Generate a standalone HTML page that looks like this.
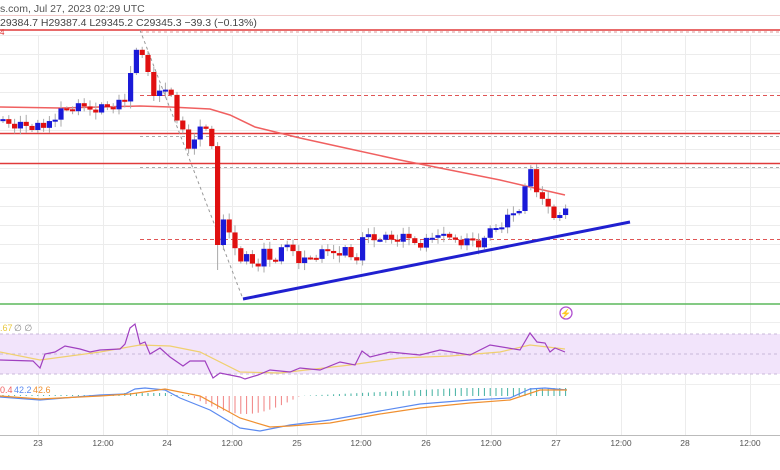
<!DOCTYPE html>
<html><head><meta charset="utf-8"><style>
html,body{margin:0;padding:0;background:#fff;width:780px;height:470px;overflow:hidden}
svg{display:block;font-family:"Liberation Sans",sans-serif}
</style></head><body>
<svg id="s" width="780" height="470" xmlns="http://www.w3.org/2000/svg">
<rect width="780" height="470" fill="#fff"/>
<g id="grid" stroke="#ececec" stroke-width="1"></g>
<line x1="0" y1="15.5" x2="780" y2="15.5" stroke="#f0c8c8"/>
<text x="0" y="12" font-size="10.5" fill="#555">s.com, Jul 27, 2023 02:29 UTC</text>
<text x="0" y="26" font-size="10.5" fill="#444">29384.7  H29387.4  L29345.2  C29345.3  −39.3 (−0.13%)</text>
<text x="0" y="35" font-size="8" fill="#e03030">4</text>
<rect x="0" y="334" width="780" height="40" fill="#f2e4fb"/>
<line x1="0" y1="334" x2="780" y2="334" stroke="#c8b8d8" stroke-dasharray="3,3"/>
<line x1="0" y1="354" x2="780" y2="354" stroke="#c8b8d8" stroke-dasharray="3,3"/>
<line x1="0" y1="374" x2="780" y2="374" stroke="#c8b8d8" stroke-dasharray="3,3"/>
<line x1="0" y1="322.5" x2="780" y2="322.5" stroke="#eee"/>
<line x1="0" y1="384.5" x2="780" y2="384.5" stroke="#eee"/>
<line x1="0" y1="435.5" x2="780" y2="435.5" stroke="#bbb"/>
<line x1="0" y1="30" x2="780" y2="30" stroke="#e03a3a" stroke-width="1.5"/>
<line x1="140" y1="32" x2="780" y2="32" stroke="#d99" stroke-dasharray="3,3"/>
<line x1="140" y1="95.5" x2="780" y2="95.5" stroke="#e05555" stroke-dasharray="4,3"/>
<line x1="0" y1="133.5" x2="780" y2="133.5" stroke="#e03a3a" stroke-width="1.5"/>
<line x1="140" y1="136.5" x2="780" y2="136.5" stroke="#aaa" stroke-dasharray="3,3"/>
<line x1="0" y1="163.5" x2="780" y2="163.5" stroke="#e03a3a" stroke-width="1.5"/>
<line x1="140" y1="167.5" x2="780" y2="167.5" stroke="#aaa" stroke-dasharray="3,3"/>
<line x1="140" y1="239.5" x2="780" y2="239.5" stroke="#e05555" stroke-dasharray="4,3"/>
<line x1="0" y1="304" x2="780" y2="304" stroke="#5cb85c" stroke-width="1.5"/>
<line x1="140" y1="30" x2="243" y2="299" stroke="#999" stroke-dasharray="3,3"/>
<polyline fill="none" stroke="#f06060" stroke-width="1.5" points="0,107 60,108 100,107 140,106 170,107 210,109 230,115 255,127 300,138 350,149 400,160 450,170 500,180 530,187 565,195"/>
<g id="candles"></g>
<line x1="243" y1="299" x2="630" y2="222" stroke="#2020d0" stroke-width="3"/>
<circle cx="566" cy="313" r="6" fill="#fff" stroke="#b050d0" stroke-width="1.3"/>
<text x="566" y="316.5" font-size="9" fill="#b050d0" text-anchor="middle">⚡</text>
<text x="0" y="331" font-size="9" fill="#e8c840">.67</text><text x="14" y="331" font-size="9" fill="#888"> ∅ ∅</text>
<polyline fill="none" stroke="#f0d070" stroke-width="1.2" points="0,352 40,360 100,352 140,345 170,346 200,352 240,372 280,373 350,365 400,358 450,356 500,352 530,345 565,349"/>
<polyline fill="none" stroke="#a040c0" stroke-width="1.2" points="0,360 33,361 40,368 45,354 55,352 65,346 80,349 90,352 100,350 120,349 125,344 130,328 135,324 140,344 145,342 150,354 160,348 170,357 183,366 190,361 205,361 213,378 220,373 240,377 245,379 258,375 270,370 290,372 300,368 320,370 340,362 355,365 362,351 370,357 390,352 420,355 440,350 470,355 490,345 520,350 530,333 537,342 545,343 550,352 555,348 565,352"/>
<text x="0" y="393" font-size="9" fill="#f06060">0.4</text><text x="14" y="393" font-size="9" fill="#5b8af0">42.2</text><text x="33" y="393" font-size="9" fill="#f09030">42.6</text>
<g id="hist"></g>
<polyline fill="none" stroke="#5b8af0" stroke-width="1.2" points="0,397 40,400 100,395 125,394 135,389 145,388 165,390 180,398 210,410 240,428 260,431 290,425 330,420 380,411 420,404 470,400 510,398 530,389 545,388 567,390"/>
<polyline fill="none" stroke="#f09030" stroke-width="1.2" points="0,396 40,399 100,396 130,394 165,389 200,396 240,418 270,427 290,426 330,423 380,414 420,408 470,403 510,400 540,390 567,390"/>
<g id="xl" font-size="8.5" fill="#555" text-anchor="middle"></g>
</svg>
<script>
var NS="http://www.w3.org/2000/svg";
function el(p,t,a){var e=document.createElementNS(NS,t);for(var k in a)e.setAttribute(k,a[k]);p.appendChild(e);return e;}
var g=document.getElementById('grid');
var xs=[38,103,167,232,297,361,426,491,556,621,685,750];
xs.forEach(function(x){el(g,'line',{x1:x+.5,y1:35,x2:x+.5,y2:435});});
for(var y=35;y<300;y+=19)el(g,'line',{x1:0,y1:y+.5,x2:780,y2:y+.5});
var labs=['23','12:00','24','12:00','25','12:00','26','12:00','27','12:00','28','12:00'];
var xl=document.getElementById('xl');
xs.forEach(function(x,i){var t=el(xl,'text',{x:x,y:446});t.textContent=labs[i];});
var kp=[[0,120],[20,125],[40,128],[45,130],[50,118],[60,112],[70,108],[90,108],[110,107],[125,103],[130,75],[135,45],[140,45],[145,75],[150,70],[155,100],[160,95],[170,88],[175,110],[182,130],[188,150],[195,135],[205,128],[212,145],[218,247],[223,222],[229,232],[235,245],[240,268],[246,255],[252,262],[258,262],[264,252],[270,260],[276,258],[285,248],[290,244],[296,255],[302,262],[310,258],[318,255],[330,252],[345,250],[355,262],[366,233],[372,240],[380,235],[390,240],[400,238],[410,240],[420,243],[430,240],[438,232],[445,240],[455,238],[465,242],[475,240],[482,248],[490,230],[500,224],[515,212],[522,205],[530,168],[537,192],[545,195],[550,218],[555,218],[562,209],[567,215]];
function f(x){for(var i=1;i<kp.length;i++){if(x<=kp[i][0]){var a=kp[i-1],b=kp[i];return a[1]+(b[1]-a[1])*(x-a[0])/(b[0]-a[0]);}}return kp[kp.length-1][1];}
var c=document.getElementById('candles');
var prev=f(0),n=0;
for(var x=3;x<=567;x+=5.8){n++;var cl=f(x)+((n*37)%7-3)*1.6;var op=prev;var up=cl<op;
var hi=Math.min(op,cl)-2-(n*13)%6,lo=Math.max(op,cl)+2+(n*7)%6;
if(Math.abs(x-216)<3)lo=270;
el(c,'line',{x1:x,y1:hi,x2:x,y2:lo,stroke:'#aaa','stroke-width':1});
var h=Math.max(2,Math.abs(cl-op));
el(c,'rect',{x:x-2.6,y:Math.min(op,cl),width:5.2,height:h,fill:up?'#1a1ad8':'#e01010'});
prev=cl;}
var hg=document.getElementById('hist');
for(var x=3;x<=567;x+=5.8){var v;
if(x<190)v=(x>120&&x<170)?-3:-1;else if(x<300)v=Math.sin((x-190)/110*Math.PI)*18;else v=-Math.min(8,(x-300)/20);
var col=v>0?'#f08080':'#40b0a0';
el(hg,'line',{x1:x,y1:396,x2:x,y2:396+v,stroke:col,'stroke-width':1});}
</script>
</body></html>
